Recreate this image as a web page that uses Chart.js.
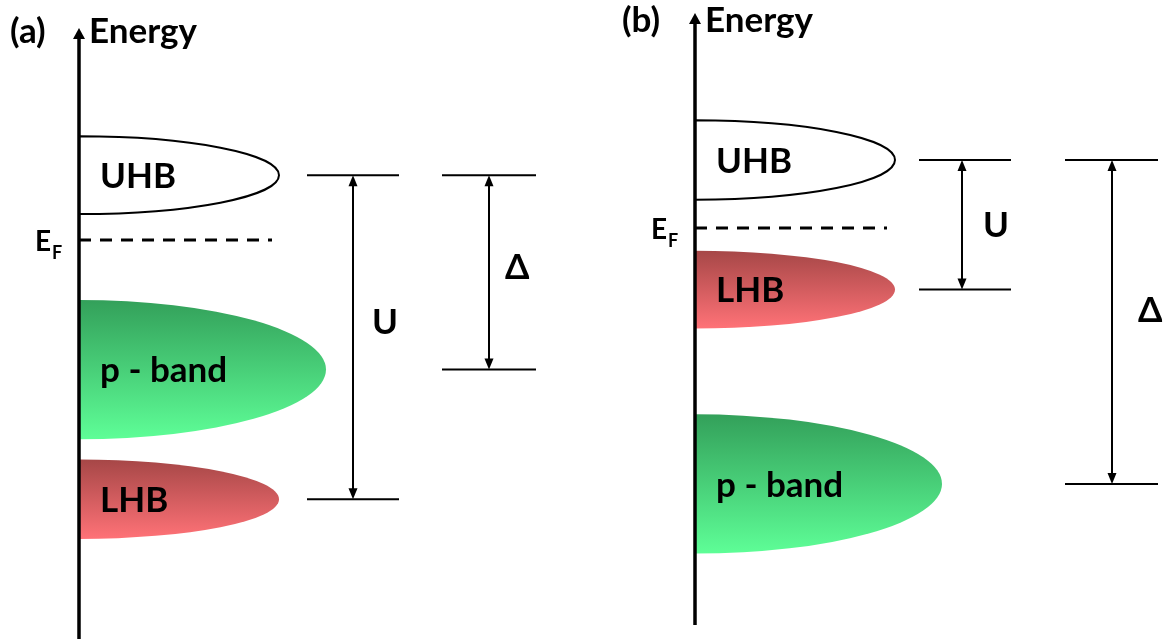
<!DOCTYPE html>
<html>
<head>
<meta charset="utf-8">
<script src="https://cdn.jsdelivr.net/npm/chart.js@4.4.0/dist/chart.umd.min.js"></script>
<style>
  html, body { margin: 0; padding: 0; background: #ffffff; }
  #wrap { position: relative; width: 1165px; height: 639px; overflow: hidden; }
  #wrap canvas { position: absolute; top: 0; }
</style>
</head>
<body>
<div id="wrap">
  <canvas id="panelA" width="582" height="639" style="left:0px"></canvas>
  <canvas id="panelB" width="583" height="639" style="left:582px"></canvas>
</div>
<script>
// ---- data ---------------------------------------------------------------
// Bands, same order in both panels
const bandNames = ['UHB', 'p - band', 'LHB'];
// Band centres in eV, measured from the Fermi level
const centresA = [0.80, -1.60, -3.20];   // (a) Mott-Hubbard: p band between UHB and LHB
const centresB = [0.84, -3.16, -0.76];   // (b) charge transfer: p band below LHB
// Half-width of each band along the energy axis (eV)
const spreadsA = [0.48, 0.86, 0.49];
const spreadsB = [0.49, 0.86, 0.48];
// Peak density of states of each band (arb. units)
const peakDos = [2.0, 2.47, 2.0];
// Fermi level of each panel (eV)
const fermiLevels = [0, 0];
// Gaps marked with double arrows: from band gapFrom[i] down to band gapTo[i]
const gapLabels = ['U', 'Δ'];
const gapFrom = [0, 0];
const gapTo = [2, 1];

// ---- drawing setup ------------------------------------------------------
const PX_PER_EV = 81;
const PX_PER_DOS = 100;
const FONT = 'Lato, "Open Sans", "DejaVu Sans", sans-serif';
const CAP = 0.72;     // cap height / font size for Lato
const TEXT_PX = 35;   // size of the band, gap and title labels

const bandStyles = [
  { fill: '#ffffff', stroke: '#000000' },
  { top: '#33a05a', bottom: '#5efe97' },
  { top: '#a64747', bottom: '#ff7277' }
];

const panels = [
  {
    id: 'panelA', tag: '(a)', centres: centresA, spreads: spreadsA, fermi: fermiLevels[0],
    axisPx: 79, fermiPx: 240, tipPx: 28, endPx: 639, titleBase: 43, tagDx: -69, fermiLen: 1.93,
    cols: [
      { x0: 2.28, x1: 3.20, arrow: 2.74, dx: 0.19, at: 0.45 },
      { x0: 3.63, x1: 4.57, arrow: 4.10, dx: 0.16, at: 0.47 }
    ]
  },
  {
    id: 'panelB', tag: '(b)', centres: centresB, spreads: spreadsB, fermi: fermiLevels[1],
    axisPx: 113, fermiPx: 228, tipPx: 13, endPx: 625, titleBase: 32, tagDx: -73, fermiLen: 1.92,
    cols: [
      { x0: 2.24, x1: 3.16, arrow: 2.67, dx: 0.21, at: 0.50 },
      { x0: 3.70, x1: 4.63, arrow: 4.17, dx: 0.26, at: 0.46 }
    ]
  }
];

function arrowHead(ctx, x, y, dir) {
  // dir = -1 points up, +1 points down
  ctx.beginPath();
  ctx.moveTo(x, y);
  ctx.lineTo(x - 4.5, y - dir * 11);
  ctx.lineTo(x + 4.5, y - dir * 11);
  ctx.closePath();
  ctx.fill();
}

function diagramPlugin(p) {
  return {
    id: 'diagram_' + p.id,
    beforeDatasetsDraw(chart) {
      const ctx = chart.ctx;
      const xs = chart.scales.x, ys = chart.scales.y;
      const x0 = xs.getPixelForValue(0);
      ctx.save();
      bandNames.forEach((name, i) => {
        const cy = ys.getPixelForValue(p.centres[i]);
        const ry = Math.abs(ys.getPixelForValue(p.centres[i] + p.spreads[i]) - cy);
        const rx = xs.getPixelForValue(peakDos[i]) - x0;
        const st = bandStyles[i];
        ctx.beginPath();
        ctx.ellipse(x0, cy, rx, ry, 0, -Math.PI / 2, Math.PI / 2);
        ctx.closePath();
        if (st.top) {
          const g = ctx.createLinearGradient(0, cy - ry, 0, cy + ry);
          g.addColorStop(0, st.top);
          g.addColorStop(1, st.bottom);
          ctx.fillStyle = g;
          ctx.fill();
        } else {
          ctx.fillStyle = st.fill;
          ctx.fill();
          ctx.lineWidth = 2;
          ctx.strokeStyle = st.stroke;
          ctx.stroke();
        }
        ctx.fillStyle = '#000';
        ctx.font = 'bold ' + TEXT_PX + 'px ' + FONT;
        ctx.textAlign = 'left';
        ctx.textBaseline = 'alphabetic';
        ctx.fillText(name, x0 + 21, cy + TEXT_PX * CAP / 2);
      });
      ctx.restore();
    },
    afterDatasetsDraw(chart) {
      const ctx = chart.ctx;
      const xs = chart.scales.x, ys = chart.scales.y;
      const x0 = xs.getPixelForValue(0);
      ctx.save();
      ctx.fillStyle = '#000';
      ctx.strokeStyle = '#000';

      // energy axis with arrow
      ctx.lineWidth = 3.5;
      ctx.beginPath();
      ctx.moveTo(x0, p.tipPx + 8);
      ctx.lineTo(x0, p.endPx);
      ctx.stroke();
      ctx.beginPath();
      ctx.moveTo(x0, p.tipPx);
      ctx.lineTo(x0 - 6, p.tipPx + 11);
      ctx.lineTo(x0 + 6, p.tipPx + 11);
      ctx.closePath();
      ctx.fill();

      // titles
      ctx.font = 'bold ' + TEXT_PX + 'px ' + FONT;
      ctx.textBaseline = 'alphabetic';
      ctx.textAlign = 'left';
      ctx.fillText('Energy', x0 + 10, p.titleBase);
      ctx.fillText(p.tag, x0 + p.tagDx, p.titleBase);

      // Fermi level label
      const yf = ys.getPixelForValue(p.fermi);
      ctx.textAlign = 'right';
      ctx.font = 'bold 28px ' + FONT;
      ctx.fillText('E', x0 - 28, yf + 28 * CAP / 2 + 1);
      ctx.textAlign = 'left';
      ctx.font = 'bold 18px ' + FONT;
      ctx.fillText('F', x0 - 27, yf + 19);

      // gaps: level lines, double arrows and labels
      gapLabels.forEach((lab, g) => {
        const c = p.cols[g];
        const yTop = ys.getPixelForValue(p.centres[gapFrom[g]]);
        const yBot = ys.getPixelForValue(p.centres[gapTo[g]]);
        const xa = xs.getPixelForValue(c.arrow);
        ctx.lineWidth = 2;
        ctx.beginPath();
        ctx.moveTo(xs.getPixelForValue(c.x0), yTop);
        ctx.lineTo(xs.getPixelForValue(c.x1), yTop);
        ctx.moveTo(xs.getPixelForValue(c.x0), yBot);
        ctx.lineTo(xs.getPixelForValue(c.x1), yBot);
        ctx.stroke();
        ctx.beginPath();
        ctx.moveTo(xa, yTop + 8);
        ctx.lineTo(xa, yBot - 8);
        ctx.stroke();
        arrowHead(ctx, xa, yTop, -1);
        arrowHead(ctx, xa, yBot, 1);
        ctx.font = 'bold ' + TEXT_PX + 'px ' + FONT;
        ctx.textAlign = 'left';
        ctx.fillText(lab, xs.getPixelForValue(c.arrow + c.dx), yTop + c.at * (yBot - yTop) + TEXT_PX * CAP / 2);
      });
      ctx.restore();
    }
  };
}

panels.forEach(p => {
  const canvas = document.getElementById(p.id);
  const w = canvas.width, h = canvas.height;
  const yMax = p.fermi + p.fermiPx / PX_PER_EV;
  new Chart(canvas, {
    type: 'scatter',
    data: {
      datasets: [
        {
          label: 'band centres',
          data: p.centres.map((c, i) => ({ x: peakDos[i], y: c })),
          pointRadius: 0,
          showLine: false
        },
        {
          label: 'Fermi level',
          data: [{ x: 0, y: p.fermi }, { x: p.fermiLen, y: p.fermi }],
          showLine: true,
          borderColor: '#000000',
          borderWidth: 3,
          borderDash: [12, 9],
          pointRadius: 0,
          fill: false
        }
      ]
    },
    options: {
      responsive: false,
      animation: false,
      events: [],
      layout: { padding: 0 },
      plugins: { legend: { display: false }, tooltip: { enabled: false } },
      scales: {
        x: { type: 'linear', display: false, min: -p.axisPx / PX_PER_DOS, max: (w - p.axisPx) / PX_PER_DOS },
        y: { type: 'linear', display: false, max: yMax, min: yMax - h / PX_PER_EV }
      }
    },
    plugins: [diagramPlugin(p)]
  });
});
</script>
</body>
</html>
